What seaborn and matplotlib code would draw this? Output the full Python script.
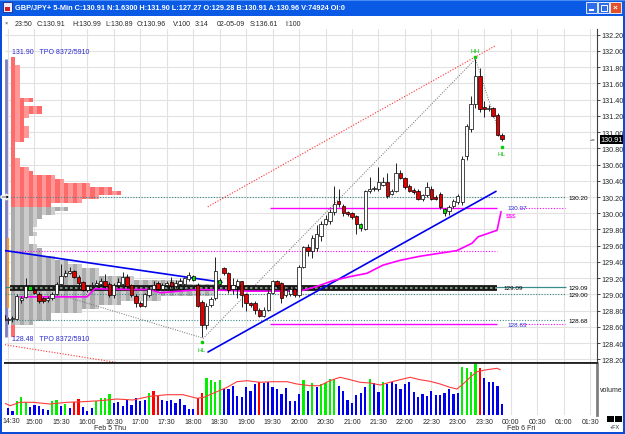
"""GBP/JPY 5-min chart with TPO profile, trend lines and volume panel."""
import matplotlib
matplotlib.use("Agg")
import matplotlib.pyplot as plt
import matplotlib.transforms as mtransforms
from matplotlib.patches import Rectangle, Polygon
import numpy as np
import pandas as pd
import seaborn as sns

FIG_W, FIG_H = 625, 435

# 5-min bars, index 0 = 14:30, last bar (112) = 23:50
BAR_INDEX = list(range(-1, 113))
OPEN = [128.75, 128.68, 128.70, 128.70, 128.93, 128.97, 129.08, 129.05, 129.01, 128.95,
        128.93, 128.95, 129.01, 129.13, 129.23, 129.26, 129.29, 129.22, 129.15, 129.06,
        129.10, 129.12, 129.13, 129.16, 129.13, 128.99, 129.12, 129.13, 129.22, 129.11,
        128.98, 128.90, 128.86, 128.99, 129.07, 129.14, 129.07, 129.11, 129.15, 129.10,
        129.13, 129.13, 129.19, 129.20, 129.12, 128.91, 128.62, 128.87, 128.95, 129.15,
        129.32, 129.26, 129.07, 129.10, 129.16, 129.01, 128.89, 128.89, 128.81, 128.74,
        128.81, 129.02, 129.16, 129.14, 128.99, 129.01, 129.07, 128.99, 129.34, 129.58,
        129.54, 129.57, 129.72, 129.87, 129.90, 130.02, 130.15, 130.09, 130.01, 130.00,
        129.97, 129.84, 129.81, 130.27, 130.30, 130.30, 130.35, 130.39, 130.24, 130.28,
        130.50, 130.43, 130.34, 130.29, 130.28, 130.18, 130.22, 130.30, 130.20, 130.24,
        130.03, 130.03, 130.09, 130.14, 130.14, 130.71, 131.04, 131.35, 131.69, 131.31,
        131.29, 131.30, 131.21, 130.97]
HIGH = [128.78, 128.72, 128.74, 129.00, 128.98, 129.20, 129.10, 129.08, 129.03, 128.97,
        128.98, 129.03, 129.15, 129.37, 129.30, 129.34, 129.30, 129.24, 129.17, 129.12,
        129.15, 129.18, 129.20, 129.25, 129.15, 129.14, 129.20, 129.27, 129.25, 129.13,
        129.00, 128.92, 129.02, 129.10, 129.16, 129.17, 129.14, 129.16, 129.22, 129.18,
        129.20, 129.22, 129.28, 129.24, 129.14, 128.93, 128.90, 128.97, 129.46, 129.20,
        129.34, 129.28, 129.20, 129.19, 129.17, 129.02, 128.91, 128.92, 128.83, 128.84,
        129.05, 129.18, 129.18, 129.15, 129.08, 129.10, 129.08, 129.36, 129.60, 129.62,
        129.73, 129.86, 129.90, 129.98, 130.05, 130.33, 130.30, 130.12, 130.03, 130.02,
        129.98, 129.88, 130.29, 130.45, 130.34, 130.57, 130.45, 130.50, 130.30, 130.62,
        130.53, 130.45, 130.36, 130.31, 130.30, 130.24, 130.38, 130.33, 130.22, 130.26,
        130.06, 130.10, 130.17, 130.24, 130.70, 131.10, 131.45, 131.90, 131.79, 131.38,
        131.33, 131.31, 131.24, 130.99]
LOW = [128.66, 128.64, 128.66, 128.68, 128.90, 128.95, 129.06, 129.00, 128.90, 128.90,
       128.91, 128.93, 128.99, 129.12, 129.22, 129.25, 129.20, 129.12, 129.04, 129.03,
       129.08, 129.10, 129.10, 129.08, 128.97, 128.95, 129.10, 129.11, 129.08, 128.97,
       128.85, 128.84, 128.84, 128.97, 129.05, 129.05, 129.05, 129.09, 129.08, 129.08,
       129.10, 129.11, 129.17, 129.17, 128.84, 128.48, 128.58, 128.85, 128.93, 129.12,
       129.24, 129.02, 129.00, 128.95, 128.85, 128.80, 128.85, 128.76, 128.72, 128.72,
       128.79, 129.00, 129.08, 128.90, 128.97, 128.98, 128.97, 128.97, 129.32, 129.47,
       129.45, 129.53, 129.66, 129.85, 129.87, 129.98, 130.08, 129.97, 129.96, 129.93,
       129.75, 129.78, 129.79, 130.25, 130.28, 130.27, 130.33, 130.19, 130.22, 130.26,
       130.42, 130.30, 130.26, 130.24, 130.16, 130.15, 130.20, 130.16, 130.16, 130.05,
       129.97, 129.98, 130.06, 130.11, 130.10, 130.65, 131.00, 131.30, 131.25, 131.18,
       131.26, 131.18, 130.95, 130.89]
CLOSE = [128.68, 128.70, 128.71, 128.98, 128.96, 129.10, 129.08, 129.02, 128.92, 128.92,
         128.96, 129.01, 129.13, 129.23, 129.26, 129.29, 129.22, 129.14, 129.06, 129.10,
         129.12, 129.14, 129.16, 129.10, 128.99, 129.12, 129.15, 129.22, 129.10, 128.99,
         128.89, 128.86, 129.00, 129.07, 129.12, 129.07, 129.12, 129.14, 129.10, 129.14,
         129.16, 129.20, 129.24, 129.20, 128.86, 128.62, 128.86, 128.94, 129.29, 129.15,
         129.26, 129.05, 129.11, 129.16, 128.99, 128.89, 128.87, 128.81, 128.74, 128.81,
         129.02, 129.16, 129.12, 128.96, 129.05, 129.07, 128.99, 129.34, 129.58, 129.53,
         129.70, 129.74, 129.87, 129.93, 130.02, 130.12, 130.12, 130.00, 129.99, 129.95,
         129.87, 129.84, 130.27, 130.30, 130.31, 130.39, 130.39, 130.21, 130.28, 130.49,
         130.44, 130.32, 130.28, 130.26, 130.18, 130.22, 130.32, 130.18, 130.18, 130.08,
         130.03, 130.08, 130.15, 130.21, 130.67, 131.07, 131.35, 131.69, 131.29, 131.28,
         131.30, 131.20, 130.97, 130.91]

VOLUME = [5.3, 7, 4.3, 14.3, 17.7, 13.3, 7.7, 10, 9.3, 6,
          5, 13.7, 15.3, 9.3, 11, 6.7, 12.7, 16, 7.7, 3.7,
          6.7, 14.3, 16.7, 16.7, 21, 11.7, 12.7, 9.3, 15.3, 10.3,
          17, 13.7, 15, 22, 23.7, 19.3, 15, 14.3, 15, 11.7,
          16, 10, 6, 6, 17, 22, 36.7, 35.3, 33.3, 35,
          26, 26, 28.7, 19.3, 17.7, 27.7, 24.3, 31, 32.7, 32,
          32.7, 28.3, 26, 21, 27, 14.3, 14.3, 21, 35.3, 23.7,
          32, 27.7, 31, 32, 36, 36, 28.7, 23.7, 15, 12,
          20.3, 22, 28.3, 36, 32, 23.3, 32.7, 31, 32.7, 31,
          26, 31, 33.3, 22.7, 17.7, 21, 19.3, 24.3, 20.3, 20.3,
          22, 26, 21, 21.7, 47.7, 46.7, 43.3, 51.7, 46.7, 36.7,
          32.7, 32.7, 29.3, 11]
# b = normal, g = up spike, r = down spike
VOLUME_KIND = ("bbbgggbbbb" "bggbgbrrbb" "bggggbbbbb" "bbbgrrbbbb" "bbbbrrgggg"
               "bbbbbbbbrb" "bbbbbbbbgb" "gbggggbbbb" "bbbgbbgbbb" "bbbbbbbbbb"
               "bbbbggggrb" "bbbb")

VOL_MA_X = [-0.7, 0.5, 2.7, 5.7, 9.5, 13.4, 17, 20.9, 24.7, 28.3, 32.2, 36.1, 39.7, 42.9, 44.4,
            46.5, 49.7, 51.9, 54.2, 57.1, 60.1, 63.3, 65.5, 68.5, 70.7, 73, 75.3, 77.6, 79.8,
            82.1, 84.4, 86.6, 88.9, 91.2, 93.4, 95.7, 98, 100.2, 101.8, 103.2, 104.8, 106.3,
            108.6, 110.9, 111.6]
VOL_MA = [11.7, 9.3, 12.7, 12.7, 11, 12.7, 13.3, 14.3, 16, 15, 18.7, 20.3, 20.3, 16.7, 17.7,
          21.7, 27.7, 33.3, 34.3, 32.7, 33.3, 33.3, 31, 29.3, 29.3, 34.3, 37.7, 35.3, 32.7,
          32, 30, 32.7, 35.3, 37.7, 35.3, 33.7, 31, 27.7, 26, 31, 37.7, 43.3, 45.3, 46.7, 45.3]

# magenta average line
MA_X = [2.7, 17.9, 19.7, 27.7, 32.2, 34.5, 43.5, 54.9, 66.2, 70.1, 73.7, 77.6, 81.4, 85,
        88.9, 93.4, 101.8, 105.2, 106.6, 110.9, 111.8]
MA_Y = [128.97, 128.97, 129.07, 129.06, 129.06, 129.02, 129.06, 129.04, 129.04, 129.10,
        129.17, 129.22, 129.26, 129.36, 129.42, 129.47, 129.54, 129.63, 129.71, 129.79, 130.02]

# TPO profile, top row 131.90 down to 128.50 in 0.05 steps
PROFILE_PRICE = np.round(np.arange(131.90, 128.49, -0.05), 2)
PROFILE_TPO = [1, 1, 2, 2, 2, 2, 2, 2, 2, 2, 5, 3, 7, 7, 4, 3, 3, 4, 4, 4,
               3, 1, 1, 1, 1, 2, 2, 4, 5, 10, 12, 18, 23, 25, 20, 16, 9, 13, 10, 7,
               6, 6, 5, 6, 4, 4, 6, 7, 7, 10, 13, 16, 20, 20, 28, 40, 47, 47, 47, 34,
               25, 20, 16, 9, 9, 5, 1, 1, 1]
VALUE_AREA_HIGH = 130.07
VALUE_AREA_LOW = 128.63
PROFILE_HIGH = 131.90
PROFILE_LOW = 128.48

DOWN_TREND = ([-0.68, 48.5], [129.54, 129.15])
UP_TREND = ([45.35, 110.66], [128.29, 130.27])
RED_UPPER = ([45.3, 110.4], [130.08, 132.06])
RED_LOWER = ([-0.7, 26.0], [128.38, 128.15])
SWINGS = ([12, 44.3, 106, 112], [128.99, 128.46, 131.90, 130.89])

TIME_LABELS = ["14:30", "15:00", "15:30", "16:00", "16:30", "17:00", "17:30", "18:00",
               "18:30", "19:00", "19:30", "20:00", "20:30", "21:00", "21:30", "22:00",
               "22:30", "23:00", "23:30", "00:00", "00:30", "01:00", "01:30"]
PRICE_TICKS = np.round(np.arange(128.2, 132.21, 0.2), 2)

TITLE = ("GBP/JPY+ 5-Min C:130.91 N:1.6300 H:131.90 L:127.27 O:129.28 "
         "B:130.91 A:130.96 V:74924 OI:0")
INFO_ITEMS = ["23:50", "C:130.91", "H:130.99", "L:130.89", "O:130.96", "V:100", "3:14",
              "02-05-09", "S:136.61", "I:100"]
INFO_X = [15, 37, 72, 105, 137, 173, 195, 217, 250, 285]

TEAL = "#3A8C8C"
MAGENTA = "#FF00FF"
XLIM = (-0.68, 133.56)

sns.set_style("white")
plt.rcParams["font.family"] = ["Liberation Sans", "DejaVu Sans"]

fig = plt.figure(figsize=(FIG_W / 100, FIG_H / 100), dpi=100)
fig.patch.set_facecolor("white")


def px_rect(x, y, w, h, **kw):
    fig.add_artist(Rectangle((x / FIG_W, 1 - (y + h) / FIG_H), w / FIG_W, h / FIG_H,
                             transform=fig.transFigure, **kw))


def px_text(x, y, s, **kw):
    fig.text(x / FIG_W, 1 - y / FIG_H, s, **kw)


ax = fig.add_axes([5 / FIG_W, 1 - 364 / FIG_H, 592 / FIG_W, 334 / FIG_H])
axv = fig.add_axes([5 / FIG_W, 1 - 416 / FIG_H, 592 / FIG_W, 52 / FIG_H])

bars = pd.DataFrame({"i": BAR_INDEX, "open": OPEN, "high": HIGH, "low": LOW, "close": CLOSE,
                     "volume": VOLUME, "kind": list(VOLUME_KIND)})

# ---- main price panel ----
ax.set_xlim(*XLIM)
ax.set_ylim(128.155, 132.27)
ax.set_axisbelow(True)
ax.set_xticks(range(0, 133, 6))
ax.grid(True, color="#E2E2E2", lw=0.8)
ax.tick_params(axis="x", length=0, labelbottom=False)
ax.yaxis.tick_right()
ax.set_yticks(PRICE_TICKS)
ax.set_yticklabels([f"{p:.2f}" for p in PRICE_TICKS])
ax.tick_params(axis="y", direction="out", length=2, width=0.6, pad=1, labelsize=5.2)
for side in ["left", "top"]:
    ax.spines[side].set_visible(False)
ax.spines["bottom"].set_color("#202020")
ax.spines["bottom"].set_linewidth(1.3)
ax.spines["right"].set_color("#404040")
ax.spines["right"].set_linewidth(0.8)

# TPO profile with striped columns
x0 = 0.68
for price, count in zip(PROFILE_PRICE, PROFILE_TPO):
    outside = price > VALUE_AREA_HIGH or price < VALUE_AREA_LOW
    dark, light = ("#FF6A6A", "#FF9797") if outside else ("#ABABAB", "#CBCBCB")
    even = [(x0 + k, 1) for k in range(0, count, 2)]
    odd = [(x0 + k, 1) for k in range(1, count, 2)]
    ax.broken_barh(even, (price - 0.025, 0.05), facecolors=dark, lw=0, zorder=1)
    if odd:
        ax.broken_barh(odd, (price - 0.025, 0.05), facecolors=light, lw=0, zorder=1)
ax.vlines(-0.45, PROFILE_LOW, PROFILE_HIGH, color="#7C7CC4", lw=2, zorder=2)
ax.vlines(0.0, 128.83, 129.69, color="#FF9A1A", lw=1.4, zorder=2)
ax.text(1.0, 131.99, f"{PROFILE_HIGH:.2f}   TPO 8372/5910", color="#2828D0", fontsize=5,
        va="center", zorder=6)
ax.text(1.0, 128.46, f"{PROFILE_LOW:.2f}   TPO 8372/5910", color="#2828D0", fontsize=5,
        va="center", zorder=6)

# level lines
for level in [130.20, 129.00, 128.68]:
    ax.hlines(level, -0.7, 126.3, color=TEAL, lw=0.8, linestyles=(0, (1, 1.5)), zorder=2)
ax.hlines(129.09, -0.7, 126.5, color=TEAL, lw=0.9, zorder=2)
ax.hlines(129.08, 0.45, 110.9, color="#1A1A1A", lw=4.2, zorder=3)
ax.hlines(129.08, 0.45, 110.9, color="#8FA88F", lw=1.2, linestyles=(0, (1.5, 1.5)), zorder=3)
ax.hlines(129.53, -0.7, 110.9, color=MAGENTA, lw=0.8, linestyles=(0, (1, 1.5)), zorder=2)
for level in [VALUE_AREA_HIGH, VALUE_AREA_LOW]:
    ax.hlines(level, 59.4, 110.9, color=MAGENTA, lw=1.0, zorder=2)
    ax.hlines(level, 116.1, 126.3, color=MAGENTA, lw=0.8, linestyles=(0, (1, 1.5)), zorder=2)
    ax.text(113.2, level, f"{level:.2f}", color="#2828D0", fontsize=4.6, va="center")
for level in [130.20, 129.09, 129.00, 128.68]:
    ax.text(127.2, level, f"{level:.2f}", color="black", fontsize=4.6, va="center")
ax.text(112.3, 129.09, "129.09", color="black", fontsize=4.6, va="center")
ax.text(113.0, 129.98, "$$$", color=MAGENTA, fontsize=4.6, va="center")

# trend lines
ax.plot(*DOWN_TREND, color="#0000F0", lw=1.2, zorder=4)
ax.plot(*UP_TREND, color="#0000F0", lw=1.2, zorder=4)
ax.plot(*RED_UPPER, color="#FF3030", lw=0.8, ls=(0, (1, 1.5)), zorder=2)
ax.plot(*RED_LOWER, color="#FF3030", lw=0.8, ls=(0, (1, 1.5)), zorder=2)
ax.plot(*SWINGS, color="#707070", lw=0.7, ls=(0, (1, 1.5)), zorder=2)

sns.lineplot(x=MA_X, y=MA_Y, ax=ax, color=MAGENTA, lw=1.2, sort=False,
             estimator=None, legend=False, zorder=4)

# candles
up = bars[bars.close > bars.open]
down = bars[bars.close < bars.open]
flat = bars[bars.close == bars.open]
ax.vlines(bars.i, bars.low, bars.high, color="black", lw=0.6, zorder=5)
ax.bar(up.i, up.close - up.open, bottom=up.open, width=0.75, color="white",
       edgecolor="black", lw=0.5, zorder=6)
ax.bar(down.i, down.open - down.close, bottom=down.close, width=0.75, color="#E00000",
       edgecolor="black", lw=0.5, zorder=6)
ax.bar(flat.i, 0.05, bottom=flat.close - 0.025, width=0.75, color="#00E000",
       edgecolor="black", lw=0.5, zorder=6)

# swing markers
hh = bars.loc[bars.high.idxmax()]
ax.plot(hh.i, hh.high + 0.02, "o", color="#00D000", ms=1.6, zorder=7)
ax.text(hh.i, hh.high + 0.1, "HH", color="#00C000", fontsize=4.6, ha="center", va="center")
for idx in [45, 113]:
    b = bars.iloc[idx]
    ax.plot(b.i, b.low - 0.07, "o", color="#00D000", ms=1.6, zorder=7)
    ax.text(b.i, b.low - 0.16, "HL", color="#00C000", fontsize=4.6, ha="center", va="center")

# current price box
trans = mtransforms.blended_transform_factory(ax.transAxes, ax.transData)
ax.text(1.006, CLOSE[-1], f"{CLOSE[-1]:.2f}", transform=trans, color="white", fontsize=5.2,
        va="center", ha="left", bbox=dict(facecolor="black", edgecolor="none", pad=0.6),
        zorder=8, clip_on=False)
ax.text(0.998, CLOSE[-1], "-=", transform=trans, fontsize=4.5, va="center", ha="right")

# ---- volume panel ----
axv.set_xlim(*XLIM)
axv.set_ylim(0, 52)
axv.set_axisbelow(True)
axv.set_xticks(range(0, 133, 6))
# first label sits against the window edge, it is drawn separately below
axv.set_xticklabels([""] + TIME_LABELS[1:])
axv.set_yticks([])
axv.grid(axis="x", color="#E2E2E2", lw=0.8)
axv.tick_params(axis="x", length=2, width=0.6, pad=0.5, labelsize=5)
for side in ["left", "bottom"]:
    axv.spines[side].set_visible(False)
axv.spines["top"].set_color("#202020")
axv.spines["top"].set_linewidth(1.3)
axv.spines["right"].set_color("#808080")
axv.spines["right"].set_linewidth(2)

kind_colors = {"b": "#0000F0", "g": "#00F000", "r": "#FF0000"}
for kind, color in kind_colors.items():
    part = bars[bars.kind == kind]
    axv.bar(part.i, part.volume, width=0.5, color=color, lw=0, zorder=2)
sns.lineplot(x=VOL_MA_X, y=VOL_MA, ax=axv, color="#FF3A3A", lw=0.8, sort=False,
             estimator=None, legend=False, zorder=3)

px_text(11, 421.5, TIME_LABELS[0], fontsize=5, ha="center", va="center")
px_text(611, 391, "volume", fontsize=5, ha="center", va="center")
px_text(110, 429, "Feb 5 Thu", fontsize=5, ha="center", va="center")
px_text(521, 429, "Feb 6 Fri", fontsize=5, ha="center", va="center")

# ---- window chrome ----
px_rect(0, 0, FIG_W, 17, facecolor="#0A5AE6", edgecolor="none")
px_rect(0, 0, FIG_W, 2, facecolor="#4A8EF2", edgecolor="none")
px_rect(0, 17, 2, FIG_H - 17, facecolor="#0A4BD8", edgecolor="none")
px_rect(623, 17, 2, FIG_H - 17, facecolor="#0A4BD8", edgecolor="none")
px_rect(0, 433, FIG_W, 2, facecolor="#0A4BD8", edgecolor="none")
px_rect(3, 3, 9, 10, facecolor="#EAEAFF", edgecolor="#1A2A80", lw=0.6)
px_rect(5, 8, 5, 4, facecolor="#D02020", edgecolor="none")
px_text(15, 9, TITLE, color="white", fontsize=5.3, fontweight="bold", va="center")
px_rect(586, 3, 11, 11, facecolor="#2F6EE8", edgecolor="white", lw=0.6)
px_rect(589, 10, 5, 1.5, facecolor="white", edgecolor="none")
px_rect(598, 3, 11, 11, facecolor="#2F6EE8", edgecolor="white", lw=0.6)
px_rect(600.5, 5.5, 6, 6, facecolor="none", edgecolor="white", lw=0.7)
px_rect(610, 3, 11, 11, facecolor="#E0502A", edgecolor="white", lw=0.6)
px_text(615.5, 8.5, "×", color="white", fontsize=6, fontweight="bold", ha="center", va="center")

px_text(6, 23, "×", fontsize=4, ha="center", va="center")
for xpos, item in zip(INFO_X, INFO_ITEMS):
    px_text(xpos, 24, item, fontsize=5, va="center")

fig.add_artist(Polygon([[1 / FIG_W, 1 - 197 / FIG_H], [6 / FIG_W, 1 - 197 / FIG_H],
                        [6 / FIG_W, 1 - 195 / FIG_H], [10 / FIG_W, 1 - 198 / FIG_H],
                        [6 / FIG_W, 1 - 201 / FIG_H], [6 / FIG_W, 1 - 199 / FIG_H],
                        [1 / FIG_W, 1 - 199 / FIG_H]],
                       closed=True, transform=fig.transFigure, facecolor="black"))

px_rect(607, 417, 7, 6, facecolor="black", edgecolor="none")
px_rect(615, 417, 7, 6, facecolor="black", edgecolor="none")
px_text(615, 428, "+FX", fontsize=4, ha="center", va="center")

fig.savefig("out.png", dpi=100)
